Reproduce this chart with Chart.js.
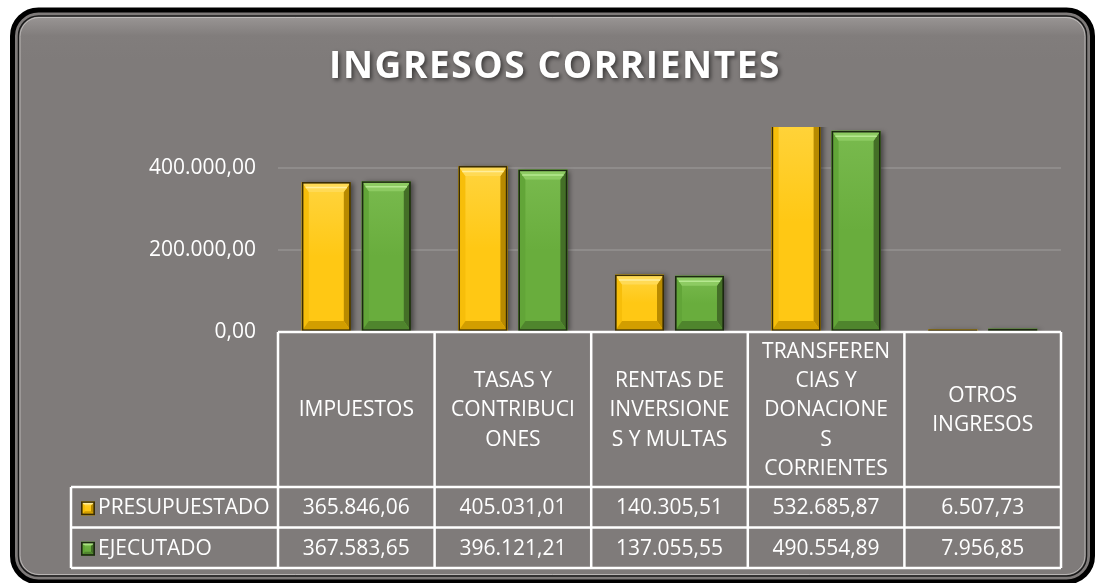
<!DOCTYPE html>
<html><head><meta charset="utf-8">
<script src="https://cdn.jsdelivr.net/npm/chart.js@4.4.1/dist/chart.umd.min.js"></script>
<style>html,body{margin:0;padding:0;background:#fff;overflow:hidden}
#wrap{position:relative;width:1096px;height:583px}</style>
</head><body><div id="wrap"><canvas id="c" width="1096" height="583"></canvas></div>
<script>
const chartTitle = 'INGRESOS CORRIENTES';
const categories = ['IMPUESTOS', 'TASAS Y CONTRIBUCIONES', 'RENTAS DE INVERSIONES Y MULTAS', 'TRANSFERENCIAS Y DONACIONES CORRIENTES', 'OTROS INGRESOS'];
const categoryLabelLines = [['IMPUESTOS'], ['TASAS Y', 'CONTRIBUCI', 'ONES'], ['RENTAS DE', 'INVERSIONE', 'S Y MULTAS'], ['TRANSFEREN', 'CIAS Y', 'DONACIONE', 'S', 'CORRIENTES'], ['OTROS', 'INGRESOS']];
const seriesNames = ['PRESUPUESTADO', 'EJECUTADO'];
const presupuestado = [365846.06, 405031.01, 140305.51, 532685.87, 6507.73];
const ejecutado = [367583.65, 396121.21, 137055.55, 490554.89, 7956.85];
const yTicks = [0, 200000, 400000];
const yMax = 500000;

const FONT = '"Open Sans", "Noto Sans", sans-serif';
const palettes = [
  {face:'#FFC814', faceTop:'#FFD43E', top:'#FFDA55', hi:'#FFEE9A', bottom:'#D29E00', left:'#F7BE0A', right:'#B88A00', border:'#3a2d04'},
  {face:'#69AD3D', faceTop:'#79BA4E', top:'#8DCB62', hi:'#B6E890', bottom:'#4F852D', left:'#62A538', right:'#446F27', border:'#1c2811'}
];

function fmt(v) {
  const s = Math.abs(v).toFixed(2);
  let [i, d] = s.split('.');
  i = i.replace(/\B(?=(\d{3})+(?!\d))/g, '.');
  return (v < 0 ? '-' : '') + i + ',' + d;
}

function roundRect(ctx, x, y, w, h, r) {
  ctx.beginPath();
  ctx.moveTo(x + r, y);
  ctx.lineTo(x + w - r, y);
  ctx.arcTo(x + w, y, x + w, y + r, r);
  ctx.lineTo(x + w, y + h - r);
  ctx.arcTo(x + w, y + h, x + w - r, y + h, r);
  ctx.lineTo(x + r, y + h);
  ctx.arcTo(x, y + h, x, y + h - r, r);
  ctx.lineTo(x, y + r);
  ctx.arcTo(x, y, x + r, y, r);
  ctx.closePath();
}

function poly(ctx, pts, color) {
  ctx.beginPath();
  ctx.moveTo(pts[0][0], pts[0][1]);
  for (let k = 1; k < pts.length; k++) ctx.lineTo(pts[k][0], pts[k][1]);
  ctx.closePath();
  ctx.fillStyle = color;
  ctx.fill();
}

function bevelBox(ctx, l, t, r, b, p, bevT, bevS) {
  const h = b - t, w = r - l;
  const dt = Math.max(0, Math.min(bevT, h / 2));
  const ds = Math.max(0, Math.min(bevS, w / 2, h / 2));
  const g = ctx.createLinearGradient(0, t, 0, b);
  g.addColorStop(0, p.faceTop);
  g.addColorStop(0.5, p.face);
  g.addColorStop(1, p.face);
  ctx.fillStyle = g;
  ctx.fillRect(l, t, w, h);
  if (dt > 0 && ds > 0) {
    poly(ctx, [[l, t], [l + ds, t + dt], [l + ds, b - dt], [l, b]], p.left);
    poly(ctx, [[r, t], [r - ds, t + dt], [r - ds, b - dt], [r, b]], p.right);
    poly(ctx, [[l, b], [l + ds, b - dt], [r - ds, b - dt], [r, b]], p.bottom);
    poly(ctx, [[l, t], [r, t], [r - ds, t + dt], [l + ds, t + dt]], p.top);
    if (dt > 3) {
      ctx.strokeStyle = p.hi;
      ctx.lineWidth = 1.5;
      ctx.beginPath();
      ctx.moveTo(l + ds * 0.55, t + dt * 0.55);
      ctx.lineTo(r - ds * 0.55, t + dt * 0.55);
      ctx.stroke();
    }
  }
  ctx.strokeStyle = p.border;
  ctx.lineWidth = 1.6;
  ctx.strokeRect(l + 0.8, t + 0.8, w - 1.6, h - 1.6);
}

const framePlugin = {
  id: 'frame',
  beforeDraw(chart) {
    const ctx = chart.ctx;
    ctx.save();
    ctx.fillStyle = '#ffffff';
    ctx.fillRect(0, 0, chart.width, chart.height);
    roundRect(ctx, 12.5, 10, 1080, 572, 26);
    ctx.fillStyle = '#7f7b7a';
    ctx.fill();
    ctx.lineWidth = 5;
    ctx.strokeStyle = '#000000';
    ctx.stroke();
    roundRect(ctx, 18.5, 16, 1068, 560, 20);
    const g = ctx.createLinearGradient(0, 16, 0, 60);
    g.addColorStop(0, '#9a9695');
    g.addColorStop(0.45, '#817d7c');
    g.addColorStop(1, '#7f7b7a');
    ctx.fillStyle = g;
    ctx.fill();
    ctx.lineWidth = 1.5;
    ctx.strokeStyle = '#1a1a1a';
    ctx.stroke();
    roundRect(ctx, 20, 17.5, 1065, 557, 19);
    ctx.lineWidth = 1;
    ctx.strokeStyle = 'rgba(210,206,205,0.7)';
    ctx.stroke();
    ctx.font = 'bold 37px ' + FONT;
    try { ctx.letterSpacing = '1.6px'; } catch (e) {}
    ctx.textAlign = 'center';
    ctx.textBaseline = 'alphabetic';
    ctx.shadowColor = 'rgba(0,0,0,0.55)';
    ctx.shadowBlur = 4;
    ctx.shadowOffsetX = 2;
    ctx.shadowOffsetY = 2;
    ctx.fillStyle = '#ffffff';
    ctx.fillText(chartTitle, 555, 78);
    ctx.restore();
  },
  beforeDatasetsDraw(chart) {
    const ctx = chart.ctx;
    ctx.save();
    ctx.shadowColor = 'rgba(0,0,0,0.45)';
    ctx.shadowBlur = 5;
    ctx.shadowOffsetX = 3;
    ctx.shadowOffsetY = 1;
  },
  afterDatasetsDraw(chart) {
    const ctx = chart.ctx;
    ctx.restore();
    const a = chart.chartArea;
    ctx.save();
    ctx.beginPath();
    ctx.rect(a.left, a.top, a.right - a.left, a.bottom - a.top);
    ctx.clip();
    chart.data.datasets.forEach((ds, di) => {
      const meta = chart.getDatasetMeta(di);
      meta.data.forEach(bar => {
        const l = bar.x - bar.width / 2, r = bar.x + bar.width / 2;
        bevelBox(ctx, l, bar.y, r, bar.base, palettes[di], 10, 7);
      });
    });
    ctx.restore();
  },
  afterDraw(chart) {
    const ctx = chart.ctx;
    const xs = chart.scales.x;
    const a = chart.chartArea;
    const n = categories.length;
    const colW = (a.right - a.left) / n;
    const edges = [];
    for (let i = 0; i < n; i++) edges.push(xs.getPixelForValue(i) - colW / 2);
    edges.push(xs.getPixelForValue(n - 1) + colW / 2);
    const top = a.bottom, headBottom = 487, row1 = 527.5, row2 = 568;
    const legendLeft = 71;
    ctx.save();
    ctx.strokeStyle = '#ffffff';
    ctx.lineWidth = 2.5;
    ctx.beginPath();
    ctx.moveTo(edges[0], top); ctx.lineTo(edges[n], top);
    ctx.moveTo(legendLeft, headBottom); ctx.lineTo(edges[n], headBottom);
    ctx.moveTo(legendLeft, row1); ctx.lineTo(edges[n], row1);
    ctx.moveTo(legendLeft, row2); ctx.lineTo(edges[n], row2);
    for (let i = 0; i <= n; i++) { ctx.moveTo(edges[i], top); ctx.lineTo(edges[i], row2); }
    ctx.moveTo(legendLeft, headBottom); ctx.lineTo(legendLeft, row2);
    ctx.stroke();

    ctx.fillStyle = '#ffffff';
    ctx.font = '21px ' + FONT;
    ctx.textAlign = 'center';
    ctx.textBaseline = 'middle';
    const lh = 29.3;
    categoryLabelLines.forEach((lines, i) => {
      const cx = (edges[i] + edges[i + 1]) / 2;
      const cy = (top + headBottom) / 2 + 1;
      const y0 = cy - (lines.length - 1) * lh / 2;
      lines.forEach((t, k) => ctx.fillText(t, cx, y0 + k * lh));
    });
    const rows = [[presupuestado, (headBottom + row1) / 2 + 1], [ejecutado, (row1 + row2) / 2 + 1]];
    rows.forEach(([vals, cy]) => {
      vals.forEach((v, i) => ctx.fillText(fmt(v), (edges[i] + edges[i + 1]) / 2, cy));
    });
    ctx.textAlign = 'left';
    rows.forEach(([vals, cy], si) => {
      bevelBox(ctx, 81, cy - 7, 95, cy + 7, palettes[si], 4, 4);
      ctx.fillStyle = '#ffffff';
      ctx.fillText(seriesNames[si], 98, cy);
    });
    ctx.restore();
  }
};

new Chart(document.getElementById('c'), {
  type: 'bar',
  data: {
    labels: categories,
    datasets: [
      {label: seriesNames[0], data: presupuestado, backgroundColor: palettes[0].face, borderWidth: 0},
      {label: seriesNames[1], data: ejecutado, backgroundColor: palettes[1].face, borderWidth: 0}
    ]
  },
  options: {
    responsive: false,
    animation: false,
    devicePixelRatio: 1,
    layout: {padding: {left: 20, right: 35, top: 127, bottom: 251}},
    datasets: {bar: {categoryPercentage: 0.766, barPercentage: 0.817}},
    plugins: {legend: {display: false}, title: {display: false}, tooltip: {enabled: false}},
    scales: {
      x: {display: false, grid: {display: false}},
      y: {
        min: 0, max: yMax,
        afterFit(s) { s.width = 258; },
        afterBuildTicks(s) { s.ticks = yTicks.map(v => ({value: v})); },
        ticks: {callback: v => fmt(v), color: '#ffffff', font: {family: FONT, size: 21}, padding: 22},
        grid: {color: 'rgba(255,255,255,0.13)', lineWidth: 2, drawTicks: false},
        border: {display: false}
      }
    }
  },
  plugins: [framePlugin]
});
</script>
</body></html>
